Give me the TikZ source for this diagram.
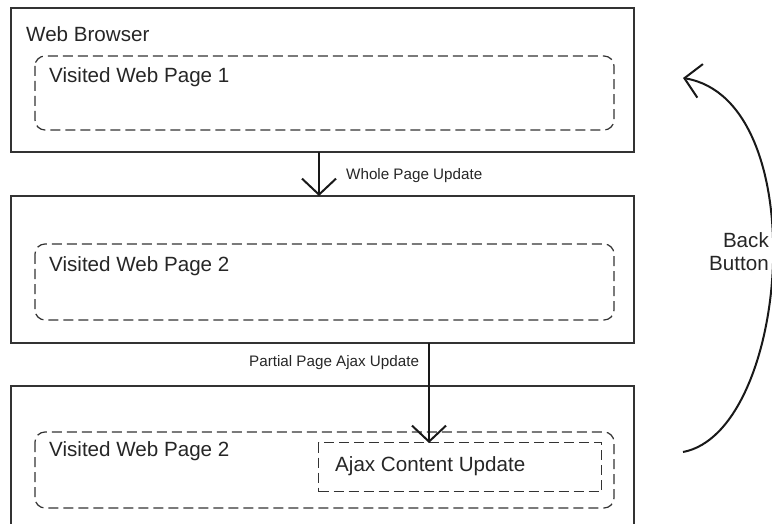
\documentclass[tikz,border=0pt]{standalone}
\usepackage{fontspec}
\setmainfont{Liberation Sans}
\usetikzlibrary{arrows.meta}
\begin{document}
\begin{tikzpicture}[x=1pt,y=-1pt,
  frame/.style={draw=black!80, line width=1.2pt},
  page/.style={draw=black!80, line width=1.2pt, dash pattern=on 10pt off 5pt, rounded corners=10pt},
  ajaxbox/.style={draw=black!80, line width=1.2pt, dash pattern=on 10pt off 5pt},
  big/.style={font=\fontsize{20.6}{24}\selectfont, text=black!85, inner sep=0pt, anchor=west},
  small/.style={font=\fontsize{15.2}{18}\selectfont, text=black!85, inner sep=0pt, anchor=west},
  flow/.style={draw=black!90, line width=2pt, -{Straight Barb[length=16pt,width=34pt,line width=2pt]}}]
\useasboundingbox (0,0) rectangle (772,524);
% outer frames
\draw[frame] (11,8) rectangle (634,152);
\draw[frame] (11,196) rectangle (634,343);
\draw[frame] (11,524) -- (11,386) -- (634,386) -- (634,524);
% page boxes
\draw[page] (35,56) rectangle (614,130);
\draw[page] (35,244) rectangle (614,320);
\draw[page] (35,432) rectangle (614,508);
\node[ajaxbox, minimum width=283pt, minimum height=49pt, anchor=north west, inner sep=0pt] (ajax) at (318,442) {};
% texts
\node[big] (wb) at (26,34) {Web Browser};
\node[big] (p1) at (49,77) {Visited Web Page 1};
\node[big] (p2) at (49,266) {Visited Web Page 2};
\node[big] (p3) at (49,451) {Visited Web Page 2};
\node[big] at (335,466) {Ajax Content Update};
\node[small] (l1) at (346,176) {Whole Page Update};
\node[small] (l2) at (249,363) {Partial Page Ajax Update};
\node[font=\fontsize{20.6}{24}\selectfont, text=black!85, inner sep=0pt, anchor=east, align=right] (bb) at (769,252) {Back\\[-1pt]Button};
% connectors
\coordinate (a1s) at (319,152);
\coordinate (a1e) at (319,196);
\coordinate (a2s) at (429,343);
\coordinate (a2e) at (429,443);
\draw[flow] (a1s) -- (a1e);
\draw[flow] (a2s) -- (a2e);
\coordinate (bs) at (683,452);
\coordinate (be) at (683,78);
\draw[flow] (bs) .. controls (790,432) and (815,100) .. (be);
\end{tikzpicture}
\end{document}
